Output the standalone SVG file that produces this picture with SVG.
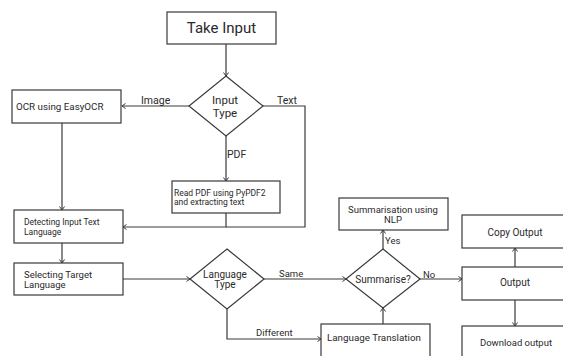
<svg xmlns="http://www.w3.org/2000/svg" width="563" height="356" viewBox="0 0 563 356">
<style>
.box{fill:#fff;stroke:#3a3a3a;stroke-width:1.2}
.ln{fill:none;stroke:#3a3a3a;stroke-width:1.2;marker-end:url(#ah)}
.pl{fill:none;stroke:#3a3a3a;stroke-width:1.2}
text{font-family:Roboto,"Liberation Sans",sans-serif;fill:#2a2a2a;font-size:9.5px}
.c{text-anchor:middle}
.big{font-size:15px}
.md{font-size:11.5px}
.lb{font-size:10.5px}
.sm{font-size:8.5px}
</style>
<defs>
<marker id="ah" markerWidth="8" markerHeight="8" refX="6" refY="4" orient="auto" markerUnits="userSpaceOnUse">
<path d="M2.5,1.5 L6,4 L2.5,6.5" fill="none" stroke="#3a3a3a" stroke-width="1"/>
</marker>
</defs>
<rect width="563" height="356" fill="#fff"/>
<g id="connectors">
<path class="ln" d="M226,44 V76"/>
<path class="ln" d="M189,106 H122"/>
<path class="ln" d="M226,136 V181"/>
<path class="pl" d="M263,106 H305 V227 H226"/>
<path class="ln" d="M226,213 V227 H123"/>
<path class="ln" d="M62,123 V210"/>
<path class="ln" d="M62,243 V263"/>
<path class="ln" d="M123,279 H190"/>
<path class="ln" d="M264,279 H346"/>
<path class="ln" d="M227,309 V339 H321"/>
<path class="ln" d="M383,324 V308"/>
<path class="ln" d="M383,249 V230"/>
<path class="ln" d="M420,279 H462"/>
<path class="ln" d="M515,267 V248"/>
<path class="ln" d="M515,300 V326"/>
<text class="lb" x="141" y="104">Image</text>
<text class="lb" x="277" y="104">Text</text>
<text class="lb" x="227" y="158">PDF</text>
<text x="279" y="277">Same</text>
<text x="256" y="336">Different</text>
<text x="385" y="244">Yes</text>
<text x="423" y="278">No</text>
</g>
<g id="take-input">
<rect class="box" x="167" y="12" width="109" height="32"/>
<text class="c big" x="221.5" y="33">Take Input</text>
</g>
<g id="input-type">
<polygon class="box" points="226,76 263,106 226,136 189,106"/>
<text class="c md" x="225" y="104">Input</text>
<text class="c md" x="225" y="117">Type</text>
</g>
<g id="ocr">
<rect class="box" x="12" y="90" width="109" height="33"/>
<text x="16" y="110" style="font-size:9.8px">OCR using EasyOCR</text>
</g>
<g id="read-pdf">
<rect class="box" x="172" y="181" width="108" height="32"/>
<text class="sm" x="174" y="196">Read PDF using PyPDF2</text>
<text class="sm" x="174" y="205">and extracting text</text>
</g>
<g id="detect">
<rect class="box" x="14" y="210" width="109" height="33"/>
<text class="sm" x="24" y="225">Detecting Input Text</text>
<text class="sm" x="24" y="235">Language</text>
</g>
<g id="select">
<rect class="box" x="14" y="263" width="109" height="32"/>
<text x="24" y="278">Selecting Target</text>
<text x="24" y="288">Language</text>
</g>
<g id="language-type">
<polygon class="box" points="227,249 264,279 227,309 190,279"/>
<text class="c" x="225" y="278" style="font-size:10px">Language</text>
<text class="c" x="225" y="288" style="font-size:10px">Type</text>
</g>
<g id="summarise">
<polygon class="box" points="383,249 420,279 383,308 346,279"/>
<text class="c" x="383" y="283" style="font-size:10px">Summarise?</text>
</g>
<g id="summarisation">
<rect class="box" x="339" y="198" width="109" height="32"/>
<text class="c" x="393" y="213">Summarisation using</text>
<text class="c" x="393" y="223">NLP</text>
</g>
<g id="translation">
<rect class="box" x="321" y="324" width="109" height="40"/>
<text x="327" y="341" style="font-size:9.8px">Language Translation</text>
</g>
<g id="output">
<rect class="box" x="462" y="267" width="110" height="33"/>
<text class="c" x="515" y="286" style="font-size:10px">Output</text>
</g>
<g id="copy-output">
<rect class="box" x="462" y="215" width="110" height="33"/>
<text class="c" x="515" y="236" style="font-size:10px">Copy Output</text>
</g>
<g id="download-output">
<rect class="box" x="462" y="326" width="110" height="40"/>
<text class="c" x="516" y="346">Download output</text>
</g>
</svg>
